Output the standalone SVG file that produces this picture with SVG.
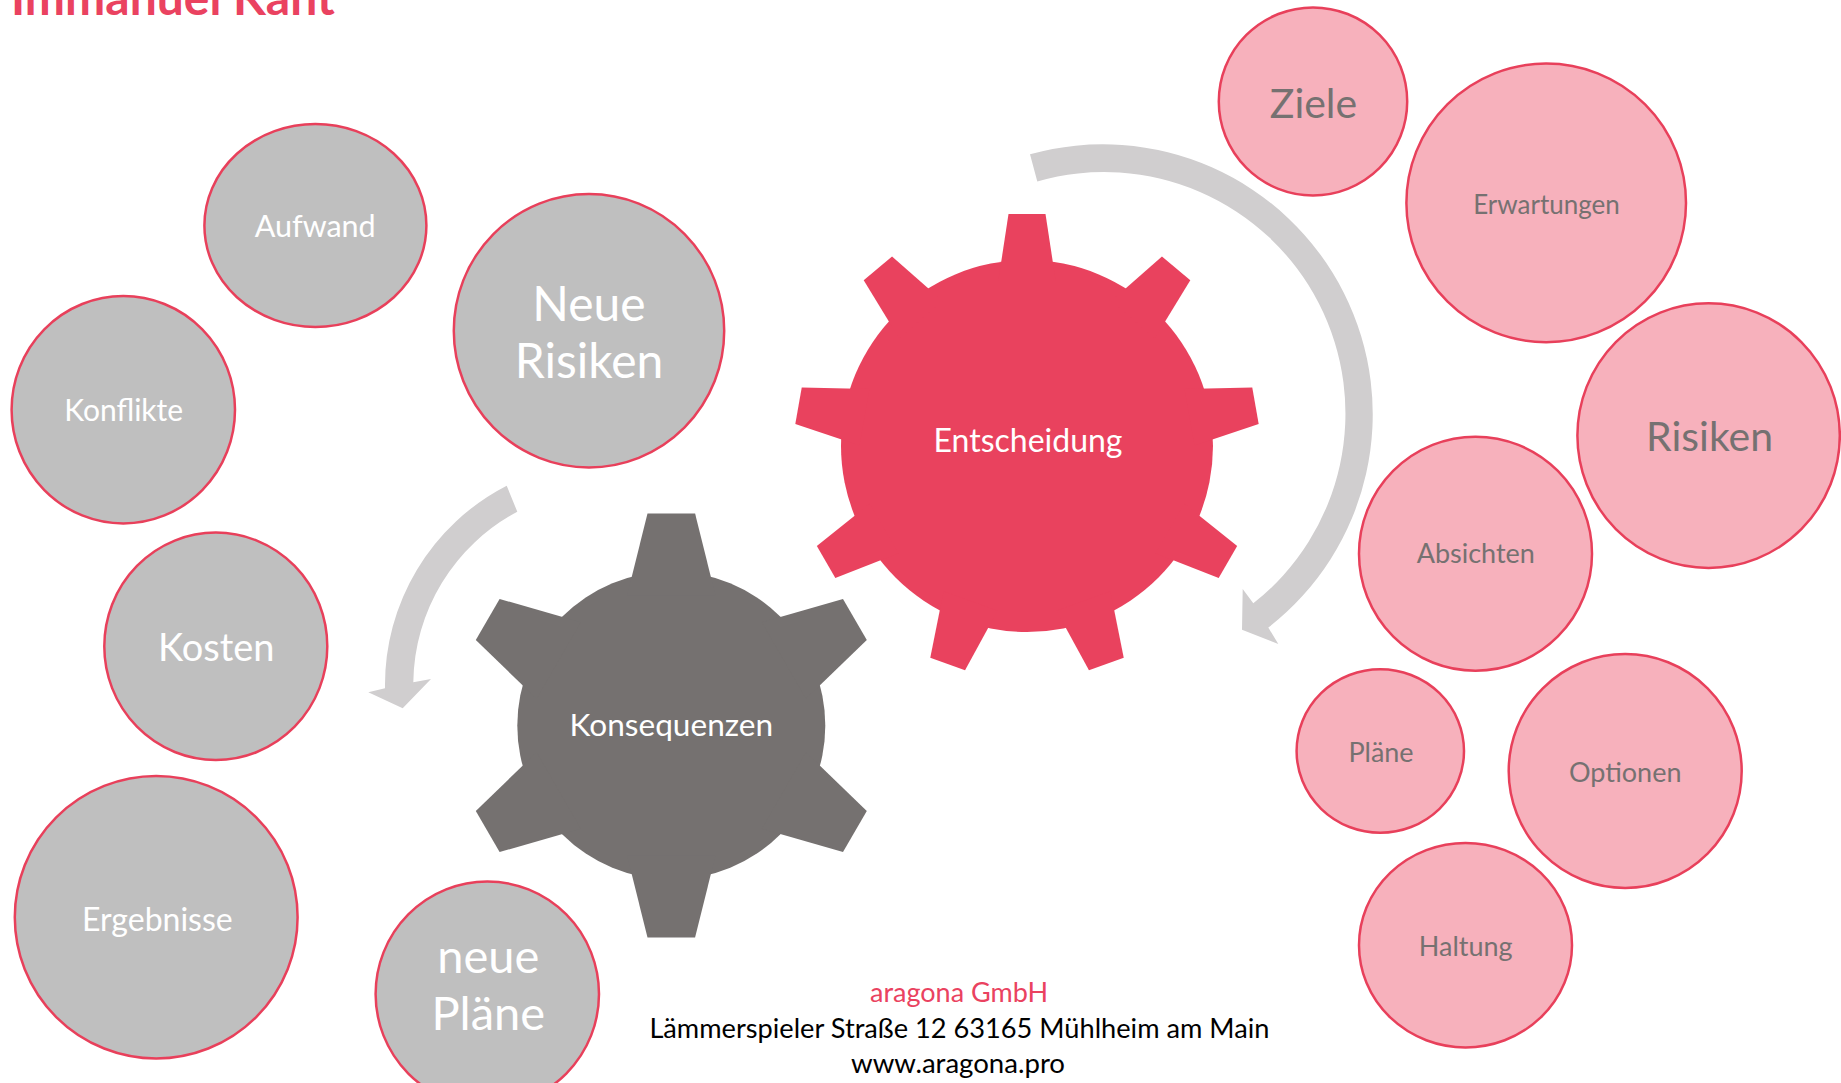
<svg xmlns="http://www.w3.org/2000/svg" xmlns:xlink="http://www.w3.org/1999/xlink" width="1841" height="1083" viewBox="0 0 1841 1083">
<style>
.g{fill:#BFBFBF;stroke:#E8405B;stroke-width:2.5}
.p{fill:#F7B1BC;stroke:#E8405B;stroke-width:2.5}
.t{font-family:Lato,"Open Sans","Liberation Sans",sans-serif;text-anchor:middle}
.w{fill:#FFFFFF}
.d{fill:#767171}
.arrow{fill:#D0CECF}
.foot{font-family:Lato,"Liberation Sans",sans-serif;text-anchor:middle;font-size:26px}
</style>
<defs>
<polygon id="rtooth" points="-18.5,-232 18.5,-232 28.7,-165 -28.7,-165"/>
<polygon id="gtooth" points="-23.8,-212 23.8,-212 44.2,-130 -44.2,-130"/>
</defs>
<rect width="1841" height="1083" fill="#FFFFFF"/>
<text x="11" y="15" font-family="Lato,'Liberation Sans',sans-serif" font-weight="bold" font-size="48" fill="#EA4260">Immanuel Kant</text>

<g id="connectors">
<path class="arrow" d="M1030,154.3 A270,270 0 0 1 1268.3,627.6 L1278.3,643.9 L1242,629.7 L1242.7,589.1 L1253.3,603.3 A241.5,241.5 0 0 0 1037.3,181.4 Z"/>
<path class="arrow" d="M506.7,485.7 A224,224 0 0 0 385,688.3 L368.3,692.3 L402.7,708.3 L431,679 L413.3,682.3 A196,196 0 0 1 517.3,511.7 Z"/>
</g>

<g id="gear-entscheidung" fill="#E9425E">
<circle cx="1027" cy="446" r="186"/>
<g transform="translate(1027,446)">
<use xlink:href="#rtooth" transform="rotate(0)"/>
<use xlink:href="#rtooth" transform="rotate(40)"/>
<use xlink:href="#rtooth" transform="rotate(80)"/>
<use xlink:href="#rtooth" transform="rotate(120)"/>
<use xlink:href="#rtooth" transform="rotate(160)"/>
<use xlink:href="#rtooth" transform="rotate(200)"/>
<use xlink:href="#rtooth" transform="rotate(240)"/>
<use xlink:href="#rtooth" transform="rotate(280)"/>
<use xlink:href="#rtooth" transform="rotate(320)"/>
</g>
<text class="t w" x="1028" y="452" font-size="32">Entscheidung</text>
</g>

<g id="gear-konsequenzen" fill="#757170">
<circle cx="671.3" cy="725.5" r="154"/>
<g transform="translate(671.3,725.5)">
<use xlink:href="#gtooth" transform="rotate(0)"/>
<use xlink:href="#gtooth" transform="rotate(60)"/>
<use xlink:href="#gtooth" transform="rotate(120)"/>
<use xlink:href="#gtooth" transform="rotate(180)"/>
<use xlink:href="#gtooth" transform="rotate(240)"/>
<use xlink:href="#gtooth" transform="rotate(300)"/>
</g>
<text class="t w" x="671.3" y="736" font-size="31.6">Konsequenzen</text>
</g>

<g id="aufwand"><ellipse class="g" cx="315.4" cy="225.5" rx="111" ry="101.5"/><text class="t w" x="315.2" y="237.3" font-size="30.5">Aufwand</text></g>
<g id="neue-risiken"><ellipse class="g" cx="589" cy="330.7" rx="135.2" ry="136.7"/><text class="t w" x="589" y="320.7" font-size="48">Neue</text><text class="t w" x="589" y="378.3" font-size="48">Risiken</text></g>
<g id="konflikte"><ellipse class="g" cx="123.3" cy="409.7" rx="111.7" ry="113.7"/><text class="t w" x="123.7" y="421" font-size="30">Konflikte</text></g>
<g id="kosten"><ellipse class="g" cx="215.8" cy="646.3" rx="111.5" ry="113.7"/><text class="t w" x="216.3" y="660.7" font-size="38">Kosten</text></g>
<g id="ergebnisse"><ellipse class="g" cx="156.2" cy="917.2" rx="141.4" ry="141.2"/><text class="t w" x="157.4" y="931" font-size="32">Ergebnisse</text></g>
<g id="neue-plaene"><ellipse class="g" cx="487.3" cy="994" rx="111.7" ry="112.5"/><text class="t w" x="488.3" y="973.3" font-size="47">neue</text><text class="t w" x="488.3" y="1030" font-size="47">Pläne</text></g>

<g id="ziele"><ellipse class="p" cx="1313" cy="101.4" rx="94.2" ry="94"/><text class="t d" x="1313.5" y="118.4" font-size="41">Ziele</text></g>
<g id="erwartungen"><ellipse class="p" cx="1546.2" cy="202.9" rx="139.8" ry="139.3"/><text class="t d" x="1546.5" y="213.8" font-size="26">Erwartungen</text></g>
<g id="risiken"><ellipse class="p" cx="1708.6" cy="435.6" rx="131.2" ry="132.3"/><text class="t d" x="1709.6" y="450.6" font-size="41">Risiken</text></g>
<g id="absichten"><ellipse class="p" cx="1475.5" cy="553.7" rx="116.5" ry="117"/><text class="t d" x="1475.8" y="563.3" font-size="27">Absichten</text></g>
<g id="plaene"><ellipse class="p" cx="1380.3" cy="751" rx="83.7" ry="81.7"/><text class="t d" x="1381" y="761.7" font-size="27">Pläne</text></g>
<g id="optionen"><ellipse class="p" cx="1625.2" cy="771" rx="116.5" ry="117"/><text class="t d" x="1625.2" y="782.3" font-size="27">Optionen</text></g>
<g id="haltung"><ellipse class="p" cx="1465.5" cy="945.2" rx="106.5" ry="102.2"/><text class="t d" x="1465.7" y="956" font-size="27">Haltung</text></g>

<g id="footer">
<text class="foot" x="959" y="1002" fill="#EA4260" textLength="178" lengthAdjust="spacingAndGlyphs">aragona GmbH</text>
<text class="foot" x="959.4" y="1038" fill="#000000" textLength="620" lengthAdjust="spacingAndGlyphs">Lämmerspieler Straße 12 63165 Mühlheim am Main</text>
<text class="foot" x="958" y="1073" fill="#000000" textLength="214" lengthAdjust="spacingAndGlyphs">www.aragona.pro</text>
</g>
</svg>
